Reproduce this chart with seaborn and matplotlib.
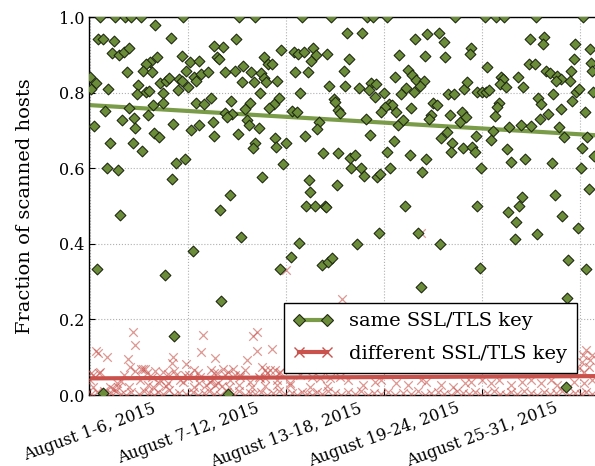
import matplotlib
matplotlib.use("Agg")
import matplotlib.pyplot as plt
import seaborn as sns
import pandas as pd
from matplotlib.lines import Line2D
from matplotlib.ticker import FormatStrFormatter

# ---------------- data ----------------
tick_days = [0, 6, 12, 18, 24, 30]
tick_labels = ["August 1-6, 2015", "August 7-12, 2015", "August 13-18, 2015",
               "August 19-24, 2015", "August 25-31, 2015", ""]
y_ticks = [0.0, 0.2, 0.4, 0.6, 0.8, 1.0]
series_labels = ["same SSL/TLS key", "different SSL/TLS key"]

same_day = [
    0.61, 1.53, 2.14, 2.51, 3.12, 5.69, 3.98, 4.96, 0.47, 0.78,
    1.45, 1.35, 1.79, 2.10, 2.37, 5.61, 6.12, 6.69, 4.10, 3.69,
    3.43, 2.28, 3.26, 3.78, 5.88, 0.02, 0.37, 0.06, 1.08, 2.92,
    4.29, 4.65, 4.82, 5.47, 5.63, 6.39, 6.49, 6.80, 7.21, 5.98,
    5.37, 2.86, 3.43, 3.63, 4.45, 4.49, 3.84, 2.41, 0.94, 3.53,
    1.94, 2.71, 0.26, 5.10, 2.77, 3.94, 4.21, 1.24, 2.61, 3.18,
    6.18, 6.65, 6.49, 7.00, 7.41, 7.51, 7.61, 1.02, 1.70, 5.27,
    5.80, 5.02, 1.84, 6.29, 0.43, 4.59, 8.02, 5.14, 8.45, 0.78,
    9.14, 10.12, 12.98, 14.75, 8.94, 8.14, 7.57, 7.78, 7.92, 11.71,
    12.47, 12.73, 13.08, 13.63, 13.84, 13.55, 14.49, 10.63, 10.90, 11.14,
    9.37, 8.28, 8.90, 9.88, 10.49, 10.63, 10.78, 9.31, 10.06, 11.47,
    12.57, 13.33, 14.65, 10.39, 12.87, 8.63, 9.81, 9.51, 11.55, 11.25,
    10.94, 14.92, 15.02, 15.18, 15.32, 8.28, 8.69, 8.39, 12.37, 12.67,
    9.61, 9.72, 10.33, 14.00, 13.90, 9.04, 11.31, 11.39, 12.00, 10.12,
    9.96, 13.14, 14.25, 15.18, 11.80, 10.53, 13.39, 13.45, 15.12, 8.55,
    7.98, 13.22, 13.76, 14.37, 14.45, 9.24, 12.81, 12.31, 11.65, 14.20,
    14.57, 14.82,
    16.98, 17.33, 18.16, 22.33, 15.75, 16.65, 19.91, 20.65, 21.35, 21.67,
    18.92, 20.53, 21.75, 15.84, 15.55, 19.47, 19.71, 19.98, 20.45, 18.65,
    20.18, 19.84, 19.36, 19.06, 15.63, 16.47, 17.22, 17.53, 17.06, 17.43,
    18.00, 21.92, 22.27, 22.90, 23.10, 18.29, 18.49, 18.04, 17.80, 18.75,
    19.67, 21.00, 21.26, 20.89, 20.74, 22.02, 22.63, 22.77, 23.04,
    16.92, 18.86, 19.16, 17.16, 18.59, 21.51, 21.86, 22.18, 22.12, 22.83,
    18.20, 19.57, 20.59, 15.90, 16.20, 15.96, 16.57, 16.77, 17.59, 17.75,
    18.38, 20.33, 19.27, 17.67, 20.08, 16.33, 21.43, 20.25,
    24.16, 24.84, 25.35, 27.29, 30.20, 26.94, 27.80, 27.71, 29.69, 30.61,
    23.34, 23.26, 29.63, 24.32, 26.88, 27.22, 27.90, 28.16, 28.57, 28.82,
    28.51, 29.43, 29.39, 30.65, 30.75, 25.18, 25.30, 25.10, 25.45, 26.20,
    26.53, 23.71, 24.02, 24.22, 24.43, 28.36, 29.73, 29.94, 30.81, 27.43,
    27.63, 29.53, 25.04, 24.90, 24.78, 28.85, 30.29, 28.04, 27.55, 25.65,
    26.37, 27.02, 28.71, 24.69, 23.61, 24.53, 29.02, 30.45, 23.41, 23.55,
    25.51, 26.61, 25.79, 28.27, 30.10, 30.04, 30.86, 23.92, 30.55, 28.47,
    26.43, 26.26, 23.67, 25.61, 26.10, 28.92, 29.88, 27.38, 26.00, 29.28,
    30.39, 23.86, 29.18, 29.14,
]
same_frac = [
    1.0, 1.0, 1.0, 1.0, 1.0, 1.0, 0.980, 0.945, 0.941, 0.943,
    0.936, 0.906, 0.900, 0.908, 0.917, 0.898, 0.880, 0.884, 0.893, 0.882,
    0.876, 0.854, 0.857, 0.854, 0.857, 0.842, 0.825, 0.810, 0.809, 0.819,
    0.825, 0.832, 0.838, 0.835, 0.830, 0.842, 0.832, 0.848, 0.855, 0.816,
    0.807, 0.795, 0.802, 0.804, 0.800, 0.773, 0.767, 0.758, 0.752, 0.741,
    0.728, 0.734, 0.712, 0.718, 0.707, 0.692, 0.683, 0.666, 0.666, 0.646,
    0.701, 0.714, 0.772, 0.770, 0.785, 0.723, 0.685, 0.600, 0.595, 0.613,
    0.624, 0.571, 0.476, 0.381, 0.333, 0.317, 0.249, 0.156, 0.003, 0.005,
    1.0, 1.0, 1.0, 1.0, 0.941, 0.921, 0.923, 0.893, 0.888, 0.913,
    0.908, 0.901, 0.908, 0.917, 0.899, 0.884, 0.901, 0.895, 0.876, 0.876,
    0.871, 0.855, 0.857, 0.855, 0.851, 0.838, 0.829, 0.829, 0.829, 0.832,
    0.854, 0.854, 0.817, 0.798, 0.798, 0.779, 0.773, 0.756, 0.785, 0.769,
    0.760, 0.782, 0.776, 0.754, 0.747, 0.747, 0.743, 0.736, 0.752, 0.750,
    0.728, 0.714, 0.707, 0.723, 0.705, 0.690, 0.679, 0.655, 0.666, 0.666,
    0.654, 0.685, 0.641, 0.641, 0.610, 0.576, 0.570, 0.538, 0.556, 0.529,
    0.489, 0.500, 0.500, 0.500, 0.498, 0.419, 0.401, 0.364, 0.333, 0.344,
    0.353, 0.363,
    1.0, 1.0, 1.0, 1.0, 0.958, 0.958, 0.943, 0.954, 0.958, 0.933,
    0.899, 0.897, 0.895, 0.888, 0.857, 0.860, 0.847, 0.833, 0.832, 0.840,
    0.817, 0.802, 0.811, 0.795, 0.817, 0.811, 0.826, 0.823, 0.807, 0.789,
    0.800, 0.796, 0.795, 0.809, 0.829, 0.769, 0.767, 0.761, 0.749, 0.749,
    0.760, 0.773, 0.767, 0.741, 0.729, 0.741, 0.723, 0.749, 0.736,
    0.729, 0.714, 0.728, 0.689, 0.672, 0.681, 0.697, 0.666, 0.642, 0.654,
    0.642, 0.635, 0.624, 0.626, 0.635, 0.600, 0.600, 0.579, 0.577, 0.585,
    0.600, 0.591, 0.500, 0.428, 0.429, 0.399, 0.399, 0.285,
    1.0, 1.0, 1.0, 1.0, 1.0, 0.942, 0.948, 0.928, 0.929, 0.916,
    0.917, 0.902, 0.888, 0.869, 0.876, 0.876, 0.858, 0.853, 0.845, 0.836,
    0.832, 0.858, 0.831, 0.877, 0.857, 0.840, 0.836, 0.822, 0.814, 0.840,
    0.814, 0.802, 0.802, 0.802, 0.808, 0.796, 0.802, 0.809, 0.801, 0.785,
    0.769, 0.779, 0.772, 0.761, 0.738, 0.756, 0.750, 0.743, 0.730, 0.708,
    0.714, 0.712, 0.710, 0.699, 0.685, 0.675, 0.683, 0.683, 0.657, 0.644,
    0.650, 0.624, 0.616, 0.615, 0.653, 0.600, 0.633, 0.600, 0.545, 0.529,
    0.523, 0.500, 0.500, 0.484, 0.457, 0.474, 0.441, 0.426, 0.412, 0.357,
    0.333, 0.337, 0.256, 0.022,
]

diff_day = [
    2.61, 2.77, 0.37, 0.47, 1.02, 6.94, 6.80, 2.31, 5.10, 5.00,
    5.88, 0.06, 0.53, 2.47, 2.77, 3.12, 3.26, 2.10, 1.90, 1.70,
    4.45, 4.76, 5.16, 5.27, 6.39, 6.59, 6.08, 7.41, 7.61, 0.17,
    0.88, 1.39, 2.37, 3.53, 3.84, 4.24, 4.65, 5.67, 5.98, 6.39,
    6.69, 7.10, 7.47, 7.65, 10.00, 10.20, 11.12, 10.24, 9.59, 8.77,
    9.49, 8.88, 8.12, 8.47, 10.53, 10.73, 11.04, 11.34, 11.55, 7.78,
    8.28, 9.20, 10.33, 10.73, 12.87, 13.59, 14.10, 14.71, 15.32, 7.67,
    8.08, 8.49, 9.10, 9.92, 10.73, 11.45, 12.26, 13.49, 14.51, 12.00,
    15.43, 20.26, 15.80, 16.71, 17.43, 17.83, 18.75, 19.47, 20.28, 20.59,
    21.51, 22.22, 22.94, 30.35, 30.75, 30.14, 30.55, 29.94, 30.24, 30.18,
    30.61, 23.31, 24.02, 24.53, 25.04, 25.76, 26.47, 26.98, 27.59, 28.20,
    28.61, 29.63, 30.24, 30.75,
    3.37, 3.98, 0.20, 0.61, 0.00, 1.63, 1.22, 3.06, 3.47, 3.78,
    4.29, 4.79, 5.51, 5.82, 6.73, 7.35, 7.85, 8.57, 9.18, 9.80,
    10.41, 10.82, 11.43, 11.63, 12.24,
    0.06, 0.43, 0.86, 1.29, 1.59, 1.90, 2.20, 2.51, 3.00, 3.31,
    3.61, 3.92, 4.16, 4.47, 4.84, 5.14, 5.45, 5.88, 6.31, 6.61,
    6.98, 7.29, 7.57, 7.98, 8.39, 8.75, 9.10, 9.49, 9.80, 10.12,
    10.47, 10.84, 11.20, 11.55, 11.94, 12.37, 12.67, 12.98, 13.29, 13.59,
    13.90, 14.20, 14.57, 15.02, 15.37, 15.80, 16.22, 16.59, 17.02, 17.39,
    17.82, 18.24, 18.67, 19.16, 19.65, 20.08, 20.51, 20.88, 21.30, 21.67,
    22.10, 22.47, 22.84, 23.20, 23.57, 23.92, 24.30, 24.73, 25.10, 25.45,
    25.77, 26.16, 26.57, 26.98, 27.37, 27.79, 28.16, 28.51, 28.90, 29.33,
    29.69, 30.04, 30.37, 30.75,
]
diff_frac = [
    0.166, 0.132, 0.117, 0.112, 0.100, 0.159, 0.115, 0.095, 0.100, 0.084,
    0.082, 0.059, 0.059, 0.073, 0.064, 0.068, 0.070, 0.053, 0.038, 0.022,
    0.062, 0.056, 0.064, 0.053, 0.066, 0.059, 0.053, 0.066, 0.059, 0.020,
    0.011, 0.015, 0.022, 0.026, 0.020, 0.033, 0.024, 0.035, 0.044, 0.020,
    0.031, 0.026, 0.040, 0.097, 0.156, 0.166, 0.123, 0.117, 0.093, 0.070,
    0.066, 0.053, 0.070, 0.062, 0.075, 0.066, 0.066, 0.066, 0.059, 0.057,
    0.053, 0.053, 0.048, 0.044, 0.053, 0.047, 0.044, 0.044, 0.047, 0.026,
    0.024, 0.020, 0.026, 0.020, 0.024, 0.026, 0.026, 0.020, 0.024, 0.332,
    0.254, 0.428, 0.040, 0.026, 0.035, 0.040, 0.031, 0.026, 0.041, 0.035,
    0.026, 0.022, 0.031, 0.119, 0.106, 0.088, 0.075, 0.071, 0.062, 0.106,
    0.093, 0.035, 0.040, 0.031, 0.040, 0.026, 0.035, 0.041, 0.031, 0.040,
    0.026, 0.035, 0.031, 0.040,
    0.070, 0.064, 0.053, 0.062, 0.040, 0.031, 0.022, 0.040, 0.057, 0.048,
    0.040, 0.031, 0.040, 0.053, 0.048, 0.035, 0.031, 0.040, 0.048, 0.035,
    0.044, 0.057, 0.040, 0.062, 0.031,
    0.002, 0.008, 0.000, 0.005, 0.011, 0.003, 0.000, 0.007, 0.002, 0.010,
    0.004, 0.000, 0.008, 0.003, 0.012, 0.000, 0.006, 0.002, 0.009, 0.000,
    0.004, 0.011, 0.002, 0.000, 0.007, 0.003, 0.010, 0.000, 0.005, 0.002,
    0.008, 0.000, 0.004, 0.011, 0.002, 0.006, 0.000, 0.009, 0.003, 0.000,
    0.007, 0.002, 0.010, 0.004, 0.000, 0.008, 0.002, 0.011, 0.000, 0.005,
    0.003, 0.009, 0.000, 0.006, 0.002, 0.010, 0.000, 0.004, 0.008, 0.002,
    0.000, 0.011, 0.005, 0.002, 0.008, 0.000, 0.006, 0.010, 0.003, 0.000,
    0.007, 0.002, 0.011, 0.004, 0.000, 0.008, 0.002, 0.006, 0.010, 0.000,
    0.005, 0.002, 0.009, 0.003,
]

# trend lines (value at left and right edge)
trend_day = [-0.06, 31.04]
same_trend = [0.767, 0.687]
diff_trend = [0.044, 0.050]

# ---------------- style ----------------
plt.rcParams["font.family"] = ["DejaVu Serif"]
plt.rcParams["axes.linewidth"] = 1.0

green = "#6b8c38"
green_line = "#7a9b47"
green_edge = "#1f2a12"
red = "#c9524c"

fig = plt.figure(figsize=(5.95, 4.66), dpi=100)
ax = fig.add_axes([89 / 595, 71 / 466, 508 / 595, 378 / 466])

same_df = pd.DataFrame({"day": same_day, "frac": same_frac})
diff_df = pd.DataFrame({"day": diff_day, "frac": diff_frac})
trend_df = pd.DataFrame({"day": trend_day, "same": same_trend, "diff": diff_trend})

sns.lineplot(data=trend_df, x="day", y="diff", ax=ax, color=red, lw=3, zorder=2)
sns.lineplot(data=trend_df, x="day", y="same", ax=ax, color=green_line, lw=3, zorder=2)
sns.scatterplot(data=diff_df, x="day", y="frac", ax=ax, marker="x", s=38,
                color=red, alpha=0.6, linewidth=0.9, legend=False, zorder=3)
sns.scatterplot(data=same_df, x="day", y="frac", ax=ax, marker="D", s=30,
                color=green, edgecolor=green_edge, linewidth=0.8, legend=False, zorder=4)

ax.set_xlim(trend_day[0], trend_day[1])
ax.set_ylim(0, 1.0)
ax.set_xticks(tick_days)
ax.set_xticklabels(tick_labels, rotation=20, ha="center", fontsize=11.5)
ax.set_yticks(y_ticks)
ax.yaxis.set_major_formatter(FormatStrFormatter("%.1f"))
ax.tick_params(axis="both", direction="in", length=4, width=0.8,
               top=False, right=False)
ax.tick_params(axis="y", labelsize=11.5)
ax.tick_params(axis="x", labelsize=11.5)
ax.grid(True, linestyle=":", color="#b0b0b0", linewidth=0.8)
ax.set_axisbelow(True)
ax.set_xlabel("")
ax.set_ylabel("Fraction of scanned hosts", fontsize=14)
ax.yaxis.set_label_coords(-0.108, 0.5)
for sp in ax.spines.values():
    sp.set_color("black")

handles = [
    Line2D([0], [0], color=green_line, lw=3, marker="D", markersize=6.5,
           markerfacecolor=green, markeredgecolor=green_edge, markeredgewidth=0.8),
    Line2D([0], [0], color=red, lw=3, marker="x", markersize=7,
           markeredgecolor=red, markeredgewidth=1.0),
]
leg = ax.legend(handles, series_labels, loc="lower right",
                bbox_to_anchor=(0.960, 0.059), numpoints=2, frameon=True,
                fancybox=False, framealpha=1, edgecolor="black", fontsize=14,
                handlelength=2.0, borderpad=0.5, labelspacing=0.75,
                handletextpad=0.85, borderaxespad=0)
leg.get_frame().set_linewidth(1.0)
leg.set_zorder(10)

fig.savefig("out.png", dpi=100)
